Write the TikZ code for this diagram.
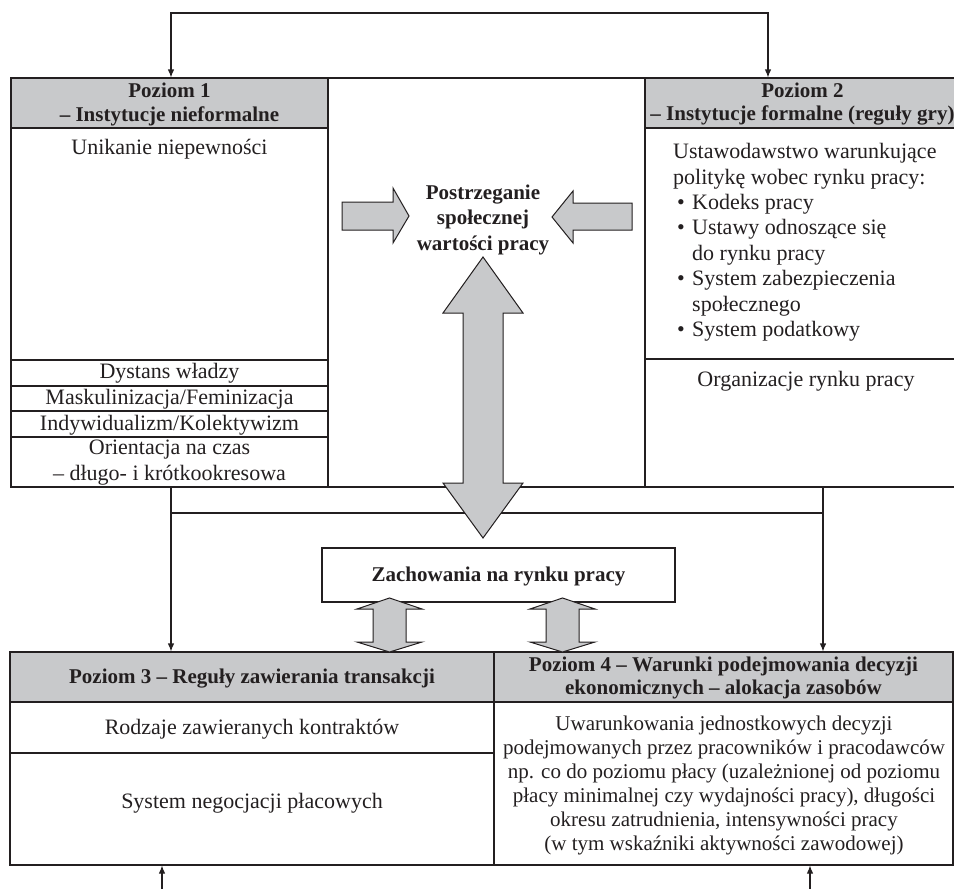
\documentclass[tikz,border=0pt]{standalone}
\usepackage{fontspec}
\setmainfont{Liberation Serif}
\usetikzlibrary{arrows.meta}
\definecolor{hdrgray}{RGB}{200,201,203}
\definecolor{ink}{RGB}{35,31,32}
\newcommand\itembul{\hspace*{4pt}\makebox[15pt][l]{\textbullet}}
\newcommand\itemcont{\hspace*{19pt}}
\begin{document}
\begin{tikzpicture}[x=1pt,y=-1pt,
    cell/.style={draw=ink,line width=1.1pt,inner sep=0pt},
    hdr/.style={cell,fill=hdrgray},
    txt/.style={inner sep=0pt,text=ink,align=center,font=\fontsize{22}{25.4}\selectfont},
    boldtxt/.style={txt,font=\bfseries\fontsize{21}{24}\selectfont},
    link/.style={draw=ink,line width=1.1pt},
    linktip/.style={-{Latex[length=8pt,width=6.5pt]}},
    blk/.style={draw=ink,fill=hdrgray,line width=1pt}]
  \clip (0,0) rectangle (954,889);
  \useasboundingbox (0,0) rectangle (954,889);
  % upper frame: levels 1 and 2
  \node[hdr,minimum width=317pt,minimum height=50pt] (h1) at (169.5,103) {};
  \node[cell,minimum width=317pt,minimum height=409pt] (mid) at (486.5,282.5) {};
  \node[hdr,minimum width=315pt,minimum height=50pt] (h2) at (802.5,103) {};
  \node[cell,minimum width=317pt,minimum height=232pt] (u1) at (169.5,244) {};
  \node[cell,minimum width=317pt,minimum height=26pt] (r1) at (169.5,373) {};
  \node[cell,minimum width=317pt,minimum height=25pt] (r2) at (169.5,398.5) {};
  \node[cell,minimum width=317pt,minimum height=26pt] (r3) at (169.5,424) {};
  \node[cell,minimum width=317pt,minimum height=50pt] (r4) at (169.5,462) {};
  \node[cell,minimum width=315pt,minimum height=231pt] (l2) at (802.5,243.5) {};
  \node[cell,minimum width=315pt,minimum height=128pt] (o2) at (802.5,423) {};
  % lower frame: levels 3 and 4
  \node[hdr,minimum width=484pt,minimum height=50pt] (h3) at (252,677) {};
  \node[hdr,minimum width=459pt,minimum height=50pt] (h4) at (723.5,677) {};
  \node[cell,minimum width=484pt,minimum height=51pt] (k3) at (252,727.5) {};
  \node[cell,minimum width=484pt,minimum height=112pt] (s3) at (252,809) {};
  \node[cell,minimum width=459pt,minimum height=163pt] (b4) at (723.5,783.5) {};
  \node[cell,minimum width=353pt,minimum height=54pt] (zach) at (498.5,575) {};
  % texts
  \node[boldtxt,anchor=north] (t1) at (169.5,82.5) {Poziom 1\\– Instytucje nieformalne};
  \node[boldtxt,anchor=north,font=\bfseries\fontsize{21}{23}\selectfont] (t2) at (802.5,82.5)
    {Poziom 2\\– Instytucje formalne (reguły gry)};
  \node[txt,anchor=base] (tuni) at (169.5,154) {Unikanie niepewności};
  \node[txt,anchor=base] (tdys) at (169.5,378.5) {Dystans władzy};
  \node[txt,anchor=base] (tmas) at (169.5,404.5) {Maskulinizacja/Feminizacja};
  \node[txt,anchor=base] (tind) at (169.5,430.5) {Indywidualizm/Kolektywizm};
  \node[txt,anchor=north] (tori) at (169.5,440) {Orientacja na czas\\– długo- i krótkookresowa};
  \node[boldtxt,anchor=north,font=\bfseries\fontsize{21}{25.5}\selectfont] (tpos) at (483,184.5)
    {Postrzeganie\\społecznej\\wartości pracy};
  \node[txt,anchor=north west,align=left] (tust) at (673,143.3)
    {Ustawodawstwo warunkujące\\politykę wobec rynku pracy:\\
     \itembul Kodeks pracy\\\itembul Ustawy odnoszące się\\\itemcont do rynku pracy\\
     \itembul System zabezpieczenia\\\itemcont społecznego\\\itembul System podatkowy};
  \node[txt,anchor=base] (torg) at (806,386) {Organizacje rynku pracy};
  \node[boldtxt,anchor=base] (tzach) at (498.5,581) {Zachowania na rynku pracy};
  \node[boldtxt,anchor=base] (t3) at (252,683) {Poziom 3 – Reguły zawierania transakcji};
  \node[boldtxt,anchor=north,font=\bfseries\fontsize{21}{23}\selectfont] (t4) at (723.5,656.5)
    {Poziom 4 – Warunki podejmowania decyzji\\ekonomicznych – alokacja zasobów};
  \node[txt,anchor=base] (trod) at (252,734) {Rodzaje zawieranych kontraktów};
  \node[txt,anchor=base] (tneg) at (252,808) {System negocjacji płacowych};
  \node[txt,anchor=north,font=\fontsize{21}{24}\selectfont] (tuwa) at (724,715.7)
    {Uwarunkowania jednostkowych decyzji\\podejmowanych przez pracowników i pracodawców\\
     np. co do poziomu płacy (uzależnionej od poziomu\\płacy minimalnej czy wydajności pracy), długości\\
     okresu zatrudnienia, intensywności pracy\\(w tym wskaźniki aktywności zawodowej)};
  % connectors
  \coordinate (fb1) at (171,13);
  \coordinate (fb2) at (768,13);
  \draw[link,{Latex[length=8pt,width=6.5pt]}-{Latex[length=8pt,width=6.5pt]}]
    (fb1 |- h1.north) -- (fb1) -- (fb2) -- (fb2 |- h2.north);
  \coordinate (j1) at (171,513);
  \coordinate (j2) at (823,513);
  \draw[link] (j1 |- r4.south) -- (j1) -- (j2) -- (j2 |- o2.south);
  \draw[link,linktip] (j1) -- (j1 |- h3.north);
  \draw[link,linktip] (j2) -- (j2 |- h4.north);
  \coordinate (in3) at (162,889);
  \coordinate (in4) at (810,889);
  \draw[link,linktip] (in3) -- (in3 |- s3.south);
  \draw[link,linktip] (in4) -- (in4 |- b4.south);
  % block arrows
  \draw[blk] (342,202) -- (393,202) -- (393,188) -- (409,216) -- (393,243)
    -- (393,230) -- (342,230) -- cycle;
  \draw[blk] (632,203) -- (573,203) -- (573,191) -- (552,217) -- (573,243)
    -- (573,230) -- (632,230) -- cycle;
  \draw[blk] (483,257) -- (523,313) -- (503,313) -- (503,483) -- (523,483)
    -- (483,538) -- (443,483) -- (463,483) -- (463,313) -- (443,313) -- cycle;
  \foreach \cx in {389.5,562.5}
    \draw[blk,xshift=\cx] (0,598) -- (32.5,609) -- (16.5,609) -- (16.5,642) -- (32.5,642)
      -- (0,652) -- (-32.5,642) -- (-16.5,642) -- (-16.5,609) -- (-32.5,609) -- cycle;
\end{tikzpicture}
\end{document}
